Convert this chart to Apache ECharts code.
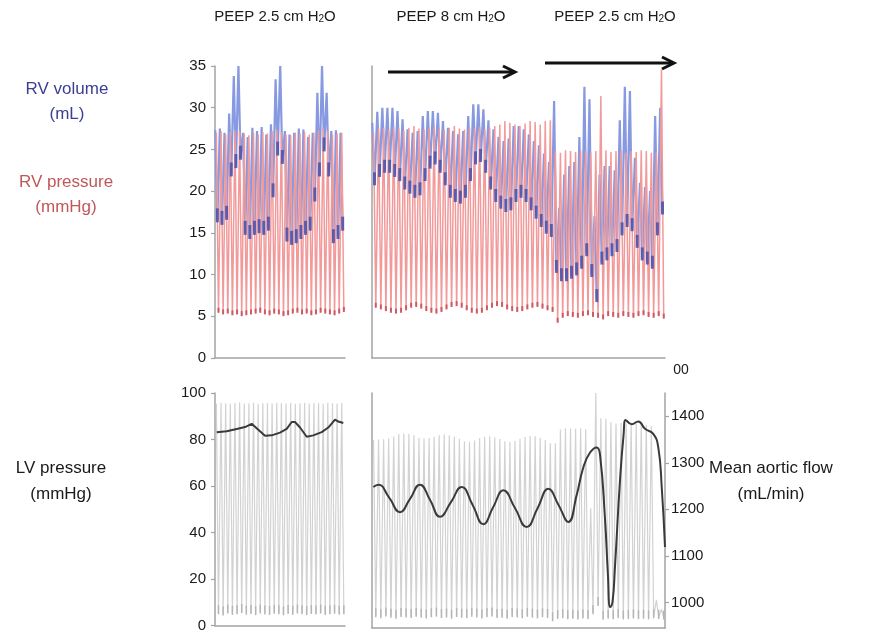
<!DOCTYPE html>
<html><head><meta charset="utf-8">
<script src="https://cdn.jsdelivr.net/npm/echarts@6/dist/echarts.min.js"></script>
<style>html,body{margin:0;padding:0;background:#fff}#c{width:871px;height:633px}</style>
</head><body><div id="c"></div>
<script>
// ---------- DATA ----------
// Panel titles
const titles = ['PEEP 2.5 cm H{s|2}O', 'PEEP 8 cm H{s|2}O', 'PEEP 2.5 cm H{s|2}O'];
// Tick labels
const rvTicks = [0, 5, 10, 15, 20, 25, 30, 35];
const lvTicks = [0, 20, 40, 60, 80, 100];
const flowTicks = [1000, 1100, 1200, 1300, 1400];

// Left panels (PEEP 2.5) : 28 beats
const rvVolEdvL = [27.3,27.5,27.0,29.3,33.8,35.0,27.0,26.5,27.6,27.2,27.7,26.8,28.0,33.4,35.0,27.2,26.8,27.0,27.5,27.4,26.5,27.0,31.8,35.0,31.8,27.2,27.3,27.0];
const rvVolEsvL = [16.5,16.2,16.8,22.0,23.0,24.0,15.0,14.5,15.0,15.2,15.0,15.5,19.5,24.5,23.5,14.2,13.8,14.0,14.5,15.0,15.5,19.0,22.0,25.0,22.0,14.0,14.5,15.5];
const rvPresSysL = [27.0,27.2,26.8,27.1,27.3,27.2,26.9,26.7,27.0,26.8,27.1,26.9,27.2,27.4,27.1,26.8,26.7,27.0,26.9,27.1,26.8,27.0,27.3,27.5,27.2,26.8,26.9,27.0];
const rvPresDiaL = [5.6,5.4,5.5,5.3,5.4,5.2,5.3,5.4,5.5,5.6,5.4,5.3,5.5,5.4,5.2,5.3,5.5,5.6,5.4,5.5,5.3,5.4,5.6,5.5,5.4,5.3,5.5,5.7];
const lvSysL = [95.5,95.8,95.6,95.4,95.7,95.9,95.5,95.6,95.8,95.4,95.6,95.7,95.5,95.8,95.6,95.5,95.7,95.4,95.6,95.8,95.5,95.7,95.6,95.4,95.8,95.6,95.5,95.7];
const lvDiaL = [5.5,5.0,5.8,5.2,5.5,6.0,5.3,5.6,5.1,5.8,5.4,5.2,5.7,5.5,5.0,5.6,5.3,5.8,5.5,5.1,5.6,5.4,5.8,5.2,5.5,5.7,5.3,5.5];
const flowTimeL = [0.37,2.52,4.67,6.46,7.90,9.33,10.77,12.21,14.0,15.44,16.52,17.23,18.31,19.75,21.17,22.98,24.40,25.85,26.56,27.63];
const flowL = [1365,1367,1372,1376,1383,1370,1357,1358,1364,1372,1387,1387,1375,1355,1358,1365,1375,1392,1388,1385];

// Right panels (PEEP 8 -> PEEP 2.5) : 58 beats
const rvVolEdvR = [28.2,29.5,30.0,30.0,30.0,29.6,28.6,27.4,27.0,27.2,
  29.0,29.6,29.6,29.4,28.4,27.6,27.2,26.8,27.2,29.0,
  30.4,30.4,29.8,28.5,27.4,26.5,26.0,26.3,27.8,27.8,
  27.4,26.8,26.0,25.5,24.5,23.5,30.8,18.0,22.0,23.0,
  23.5,26.5,32.5,31.0,17.0,22.0,23.0,23.0,22.5,28.5,
  32.5,32.0,24.0,21.0,20.5,20.0,29.0,30.0];
const rvVolEsvR = [21.0,22.0,22.5,22.5,22.0,21.5,20.5,20.0,19.5,19.8,
  21.5,23.0,23.5,22.5,21.0,19.5,19.0,18.8,19.5,21.5,
  23.5,23.8,22.5,20.5,19.0,18.2,17.8,18.0,19.0,19.5,
  19.0,18.0,17.0,16.0,15.2,14.8,10.5,9.5,9.5,9.8,
  10.2,11.0,12.5,10.0,7.0,11.5,12.0,12.5,13.0,15.0,
  16.0,15.5,13.5,12.0,11.5,11.0,15.0,17.5];
const rvPresSysR = [27.0,27.5,27.6,27.4,27.7,27.5,27.3,27.6,27.8,27.5,
  27.4,27.6,27.7,27.5,27.3,27.6,27.8,27.5,27.4,27.6,
  27.5,27.7,27.4,27.6,27.8,28.0,28.4,28.2,28.0,27.8,
  28.1,28.4,28.3,28.0,28.4,28.5,24.8,24.6,24.9,24.8,
  24.7,24.9,24.8,24.6,24.8,31.4,24.9,24.7,24.8,24.9,
  24.6,24.8,24.7,24.9,24.8,24.6,24.7,34.6];
const rvPresDiaR = [6.2,6.0,5.8,5.6,5.5,5.6,5.9,6.2,6.3,6.1,
  5.8,5.6,5.5,5.7,6.0,6.3,6.4,6.2,5.9,5.6,
  5.5,5.6,5.9,6.2,6.4,6.3,6.0,5.8,5.7,5.8,
  6.0,6.2,6.3,6.1,5.9,5.7,4.4,5.0,5.2,5.1,
  5.0,5.2,5.3,5.1,5.0,4.8,5.2,5.1,5.0,5.2,
  5.1,5.0,5.2,5.3,5.1,5.0,5.2,4.9];
const lvSysR = [80.0,80.2,80.3,80.6,81.5,82.5,82.8,82.6,82.0,81.0,
  80.6,80.8,81.4,82.0,82.3,82.0,81.5,80.5,79.5,79.3,
  79.8,80.8,81.4,81.6,81.2,80.4,79.5,79.3,79.6,80.5,
  81.3,81.7,81.6,81.0,80.0,78.7,78.6,84.5,85.0,84.9,
  84.8,85.0,84.6,51.0,100,89.2,89.0,87.5,87.0,87.2,
  87.0,87.0,86.8,86.8,86.5,86.0,12.0,8.0];
const lvDiaR = [5.2,4.8,5.5,5.0,4.6,5.3,5.1,4.9,5.4,5.0,
  4.7,5.2,5.5,4.9,5.1,4.6,5.3,5.0,4.8,5.4,
  5.1,4.7,5.2,5.5,4.9,5.0,4.6,5.3,5.1,4.8,
  5.4,5.0,4.7,5.2,4.9,3.5,4.5,4.8,4.4,4.6,
  4.3,4.7,4.5,6.5,10.0,4.2,4.6,4.4,4.8,4.3,
  4.5,4.7,4.4,4.6,4.3,4.8,4.5,4.2];
const flowTimeR = [0.26,1.25,3.4,5.54,7.5,9.5,11.5,13.46,15.6,17.75,19.9,22.03,24.0,26.0,28.3,30.62,32.8,34.9,36.9,38.86,40.5,41.83,43.16,44.48,45.13,46.12,46.7,47.15,47.6,48.10,49.09,49.8,50.22,51.41,52.71,54.04,55.68,56.67,57.35,58.0];
const flowR = [1248,1253,1225,1194,1222,1253,1220,1184,1215,1248,1210,1168,1205,1241,1203,1162,1203,1244,1210,1173,1230,1290,1322,1333,1318,1180,1060,990,1000,1077,1262,1360,1392,1383,1389,1373,1362,1333,1248,1119];

// ---------- helpers ----------
function beats(peaks, troughs, offP, offT) {
  const out = [];
  for (let i = 0; i < peaks.length; i++) {
    out.push([i + offP, peaks[i]]);
    out.push([i + offT, troughs[i]]);
  }
  return out;
}
function pts(t, v) { return t.map((x, i) => [x, v[i]]); }
function at(vals, off) { return vals.map((v, i) => [i + off, v]); }

const FONT = '"Liberation Sans", Arial, Helvetica, sans-serif';
const AX = '#a3a3a3';
const BLUE = '#8799e0';
const DBLUE = '#4750aa';
const PINK = '#f2999a';
const DRED = '#d05a62';
const GRAY = '#d2d2d2';

function xAx(gi, max) {
  return { type: 'value', gridIndex: gi, min: 0, max: max,
    axisLine: { show: true, onZero: false, lineStyle: { color: AX, width: 1.5 } },
    axisTick: { show: false }, axisLabel: { show: false }, splitLine: { show: false } };
}
function yAx(gi, min, max, ticks, margin) {
  const show = !!ticks;
  return { type: 'value', gridIndex: gi, min: min, max: max,
    axisLine: { show: true, lineStyle: { color: AX, width: 1.5 } },
    axisTick: { show: show, length: 4, lineStyle: { color: AX, width: 1.2 }, customValues: ticks || undefined },
    axisLabel: { show: show, color: '#1a1a1a', fontSize: 15, fontFamily: FONT, margin: margin || 9, customValues: ticks || undefined,
      formatter: v => String(v) },
    splitLine: { show: false } };
}
function trace(xi, yi, data, color, width, z) {
  return { type: 'line', xAxisIndex: xi, yAxisIndex: yi, data: data, showSymbol: false, silent: true,
    lineStyle: { color: color, width: width }, z: z };
}
function marks(xi, yi, data, color, size, offset, z, op) {
  return { type: 'scatter', xAxisIndex: xi, yAxisIndex: yi, data: data, silent: true, symbol: 'rect',
    symbolSize: size, symbolOffset: offset, itemStyle: { color: color, opacity: op || 1 }, z: z };
}

const chart = echarts.init(document.getElementById('c'), null, { renderer: 'canvas' });

const txt = (text, x, y, color, size) => ({ type: 'text', x: x, y: y, silent: true,
  style: { text: text, fill: color, fontSize: size, fontFamily: FONT, align: 'center', verticalAlign: 'middle' } });
const titleEl = (text, x) => ({ type: 'text', x: x, y: 17, silent: true,
  style: { text: text, fill: '#1a1a1a', fontSize: 15, fontFamily: FONT, align: 'center', verticalAlign: 'middle',
    rich: { s: { fontSize: 10, fontFamily: FONT, fill: '#1a1a1a', verticalAlign: 'bottom', lineHeight: 10, padding: [10, 0, 0, 0] } } } });
const arrow = (x1, x2, y) => ([
  { type: 'polyline', silent: true, shape: { points: [[x1, y], [x2 - 1, y]] }, style: { stroke: '#111', lineWidth: 3 } },
  { type: 'polyline', silent: true, shape: { points: [[x2 - 12, y - 6], [x2, y], [x2 - 12, y + 6]] }, style: { stroke: '#111', lineWidth: 3, fill: null, lineJoin: 'miter' } }
]);

const option = {
  animation: false,
  backgroundColor: '#fff',
  grid: [
    { left: 215, top: 66, width: 130, height: 292 },
    { left: 372, top: 66, width: 293, height: 292 },
    { left: 215, top: 393, width: 130, height: 235 },
    { left: 372, top: 393, width: 293, height: 235 }
  ],
  xAxis: [xAx(0, 28), xAx(1, 58), xAx(2, 28), xAx(3, 58)],
  yAxis: [
    yAx(0, 0, 35, rvTicks),
    yAx(1, 0, 35, null),
    yAx(2, 0, 100, lvTicks),
    yAx(3, 0, 100, null),
    Object.assign(yAx(3, 945, 1450, flowTicks, 6), { position: 'right' }),
    { type: 'value', gridIndex: 2, show: false, min: 945, max: 1450, splitLine: { show: false } }
  ],
  series: [
    trace(0, 0, beats(rvVolEdvL, rvVolEsvL, 0.05, 0.5), BLUE, 2.2, 2),
    trace(0, 0, beats(rvPresSysL, rvPresDiaL, 0.3, 0.75), PINK, 1.5, 3),
    marks(0, 0, at(rvVolEsvL, 0.5), DBLUE, [3, 14], [0, -5], 4, 0.85),
    marks(0, 0, at(rvPresDiaL, 0.75), DRED, [2, 5], [0, -1], 4),
    trace(1, 1, beats(rvVolEdvR, rvVolEsvR, 0.05, 0.5), BLUE, 2.2, 2),
    trace(1, 1, beats(rvPresSysR, rvPresDiaR, 0.3, 0.75), PINK, 1.5, 3),
    marks(1, 1, at(rvVolEsvR, 0.5), DBLUE, [3, 13], [0, -4], 4, 0.85),
    marks(1, 1, at(rvPresDiaR, 0.75), DRED, [2, 5], [0, -1], 4),
    trace(2, 2, beats(lvSysL, lvDiaL, 0.3, 0.75), GRAY, 1.2, 2),
    marks(2, 2, at(lvDiaL, 0.75), '#b5b5b5', [1.5, 9], [0, -3], 3),
    trace(3, 3, beats(lvSysR, lvDiaR, 0.3, 0.75), GRAY, 1.2, 2),
    marks(3, 3, at(lvDiaR, 0.75), '#b5b5b5', [1.5, 9], [0, -3], 3),
    trace(2, 5, pts(flowTimeL, flowL), '#3a3a3a', 2, 5),
    Object.assign(trace(3, 4, pts(flowTimeR, flowR), '#3a3a3a', 2, 5), { smooth: 0.5 })
  ],
  graphic: [
    titleEl(titles[0], 275), titleEl(titles[1], 451), titleEl(titles[2], 615),
    ...arrow(388, 515, 72), ...arrow(545, 674, 63),
    txt('RV volume', 67, 89, '#3c3f93', 17), txt('(mL)', 67, 114, '#3c3f93', 17),
    txt('RV pressure', 66, 182, '#c0585a', 17), txt('(mmHg)', 66, 207, '#c0585a', 17),
    txt('LV pressure', 61, 468, '#1a1a1a', 17), txt('(mmHg)', 61, 494, '#1a1a1a', 17),
    txt('Mean aortic flow', 771, 468, '#1a1a1a', 17), txt('(mL/min)', 771, 494, '#1a1a1a', 17),
    txt('00', 681, 370, '#1a1a1a', 14)
  ]
};
chart.setOption(option);
</script></body></html>
